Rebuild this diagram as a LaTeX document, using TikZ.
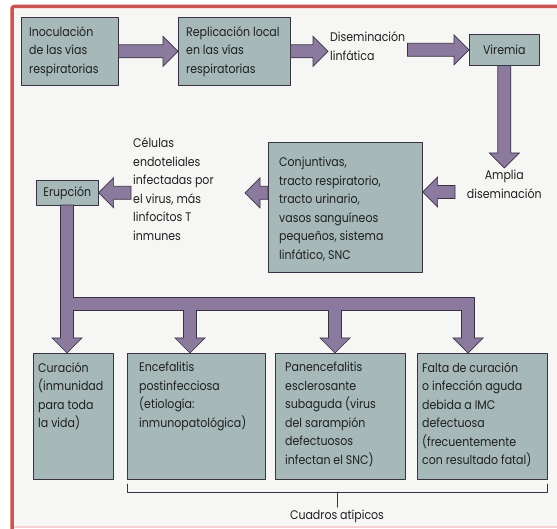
\documentclass[tikz,border=0pt]{standalone}
\usepackage{fontspec}
\setmainfont{Poppins}[FakeStretch=0.88]
\usetikzlibrary{calc}

\definecolor{rojomarco}{rgb}{0.80,0.33,0.32}
\definecolor{rosapalido}{rgb}{0.96,0.82,0.82}
\definecolor{fondo}{rgb}{0.965,0.965,0.955}
\definecolor{cajagris}{rgb}{0.65,0.72,0.72}
\definecolor{flechalila}{rgb}{0.55,0.48,0.62}
\definecolor{bordeoscuro}{rgb}{0.22,0.20,0.26}

\tikzset{
  caja/.style={draw=bordeoscuro, line width=0.6pt, fill=cajagris, inner sep=0pt, anchor=north west,
    text=black!88, font=\fontsize{12.5}{15}\selectfont},
  texto/.style={font=\fontsize{12.5}{18.5}\selectfont, text=black!88, align=left, inner sep=2pt},
  dentro/.style={texto, anchor=north west, xshift=6pt, yshift=-7pt},
  flechagorda/.style={draw=bordeoscuro, line width=0.7pt, fill=flechalila, line join=miter},
}

% fat arrow from #1 to #2 (tip at #2)
\newcommand{\fatarrow}[2]{%
  \coordinate (fa-h) at ($(#2)!15pt!(#1)$);
  \draw[flechagorda] ($(#1)!6.5pt!90:(#2)$) -- ($(fa-h)!6.5pt!90:(#2)$)
    -- ($(fa-h)!15pt!90:(#2)$) -- (#2) -- ($(fa-h)!15pt!-90:(#2)$)
    -- ($(fa-h)!6.5pt!-90:(#2)$) -- ($(#1)!6.5pt!-90:(#2)$) -- cycle;
}

\begin{document}
\begin{tikzpicture}[x=1pt,y=-1pt,line cap=round,line join=round]
\useasboundingbox (0,0) rectangle (557,529);
\fill[white] (0,0) rectangle (557,529);
\fill[fondo] (12,6.5) rectangle (557,527);
\draw[rosapalido,line width=1.5pt] (12,527) -- (557,527);
\draw[rojomarco,line width=3.5pt,rounded corners=2pt] (12,529) -- (12,6.5) -- (557,6.5);

% first row
\node[caja, minimum width=97pt, minimum height=68pt,
  label={[dentro]north west:{Inoculación\\de las vías\\respiratorias}}] (inoc) at (21,17) {};
\node[caja, minimum width=112pt, minimum height=68pt,
  label={[dentro]north west:{Replicación local\\en las vías\\respiratorias}}] (repl) at (178,17) {};
\node[texto, anchor=west] (disem) at (328,46) {Diseminación\\linfática};
\node[caja, minimum width=70pt, minimum height=31pt] (vir) at (469,34) {Viremia};

\coordinate (d1) at (disem.west |- repl.east);
\coordinate (d2) at (disem.east |- vir.west);
\fatarrow{inoc.east}{repl.west}
\fatarrow{repl.east}{d1}
\fatarrow{d2}{vir.west}

% second row
\node[texto, anchor=north, align=center] (amplia) at (vir.south |- 0,168) {Amplia\\diseminación};
\fatarrow{vir.south}{amplia.north}

\node[caja, minimum width=154pt, minimum height=130pt,
  label={[dentro, xshift=3pt, yshift=-6pt]north west:{Conjuntivas,\\tracto respiratorio,\\tracto urinario,\\vasos sanguíneos\\pequeños, sistema\\linfático, SNC}}] (conj) at (268,142) {};
\node[texto, anchor=north west] (celulas) at (131,136) {Células\\endoteliales\\infectadas por\\el virus, más\\linfocitos T\\inmunes};
\node[caja, minimum width=62pt, minimum height=25pt] (erup) at (36,180) {Erupción};

\coordinate (c1) at (455,192);
\coordinate (c2) at (conj.east |- c1);
\coordinate (c3) at (conj.west |- erup.east);
\coordinate (c4) at (245,0 |- erup.east);
\coordinate (c5) at (celulas.west |- erup.east);
\fatarrow{c1}{c2}
\fatarrow{c3}{c4}
\fatarrow{c5}{erup.east}

% bottom row
\node[caja, minimum width=80pt, minimum height=126pt,
  label={[dentro, xshift=-3pt]north west:{Curación\\(inmunidad\\para toda\\la vida)}}] (cur) at (33,353) {};
\node[caja, minimum width=138pt, minimum height=126pt,
  label={[dentro, xshift=4pt]north west:{Encefalitis\\postinfecciosa\\(etiología:\\inmunopatológica)}}] (enc) at (127,353) {};
\node[caja, minimum width=130pt, minimum height=126pt,
  label={[dentro, xshift=2pt]north west:{Panencefalitis\\esclerosante\\subaguda (virus\\del sarampión\\defectuosos\\infectan el SNC)}}] (pan) at (275,353) {};
\node[caja, minimum width=130pt, minimum height=126pt,
  label={[dentro, xshift=-3pt]north west:{Falta de curación\\o infección aguda\\debida a IMC\\defectuosa\\(frecuentemente\\con resultado fatal)}}] (falta) at (417,353) {};

% tree of arrows
\draw[flechagorda] (60.5,205) -- (73.5,205) -- (73.5,297.5) -- (474.5,297.5) -- (474.5,338)
  -- (483,338) -- (468,353) -- (453,338) -- (461.5,338) -- (461.5,310.5)
  -- (341.5,310.5) -- (341.5,338) -- (350,338) -- (335,353) -- (320,338) -- (328.5,338) -- (328.5,310.5)
  -- (196.5,310.5) -- (196.5,338) -- (205,338) -- (190,353) -- (175,338) -- (183.5,338) -- (183.5,310.5)
  -- (73.5,310.5) -- (73.5,338) -- (82,338) -- (67,353) -- (52,338) -- (60.5,338) -- cycle;

% bracket
\node[texto, anchor=center] (atip) at (337,516) {Cuadros atípicos};
\draw[bordeoscuro,line width=0.7pt] (enc.south west |- 0,484) -- (enc.south west |- 0,492)
  -- (falta.south east |- 0,492) -- (falta.south east |- 0,484);
\draw[bordeoscuro,line width=0.7pt] (atip.north |- 0,492) -- (atip.north);
\end{tikzpicture}
\end{document}
